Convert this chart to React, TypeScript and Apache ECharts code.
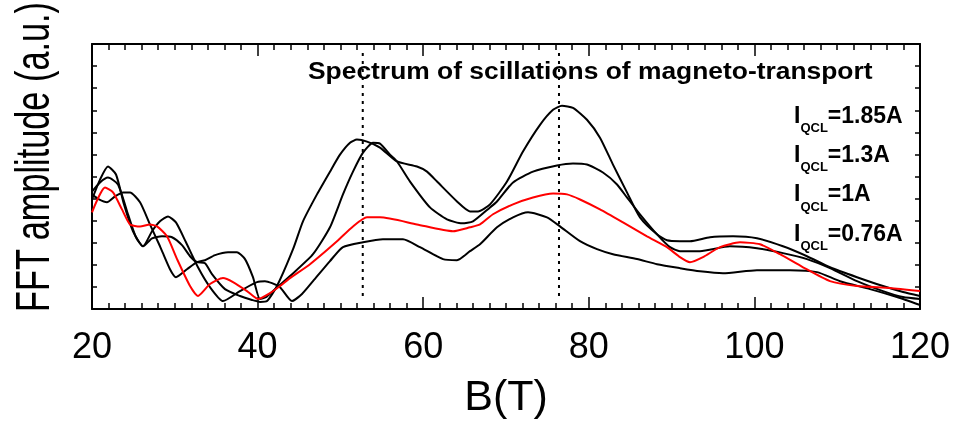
import React, { useEffect, useRef } from 'react';
import * as echarts from 'echarts';

// Magnetic field B (T) sample positions and FFT amplitudes (a.u.) per I_QCL
const fieldA = [20.0, 20.97, 21.93, 23.14, 24.35, 25.31, 26.16, 27.25, 28.45, 29.66, 30.87, 31.84, 32.68, 33.65, 34.49, 36.06, 37.87, 39.32, 40.29, 41.14, 42.34, 44.28, 45.48, 47.17, 48.74, 49.95, 51.16, 52.0, 53.21, 54.78, 56.84, 59.25, 60.46, 61.67, 64.08, 65.65, 66.62, 68.07, 70.12, 72.05, 74.11, 75.68, 76.76, 78.09, 79.78, 81.35, 82.92, 84.61, 86.18, 88.24, 89.44, 91.01, 92.22, 94.64, 97.42, 100.31, 103.45, 106.35, 109.13, 112.39, 115.53, 117.95, 120];
const ampA = [53.2, 57.3, 59.5, 56.4, 42.9, 32.5, 28.4, 32.0, 32.9, 32.5, 28.9, 23.9, 21.2, 20.7, 15.8, 9.0, 5.9, 4.1, 3.2, 3.6, 10.4, 27.1, 39.7, 51.9, 62.2, 69.9, 75.3, 76.7, 75.8, 73.1, 66.8, 64.5, 62.2, 57.7, 48.7, 44.2, 44.2, 47.4, 57.7, 71.3, 83.4, 90.2, 92.0, 91.1, 85.7, 77.6, 65.4, 52.8, 41.5, 33.8, 31.1, 30.7, 30.7, 32.5, 32.9, 32.0, 28.4, 23.9, 18.9, 14.4, 10.4, 7.7, 5.9];

const fieldB = [20.0, 20.85, 21.81, 22.78, 23.74, 24.59, 25.8, 27.0, 28.21, 29.42, 30.14, 31.47, 32.68, 33.65, 34.86, 36.43, 37.51, 38.48, 39.44, 40.29, 41.01, 41.86, 43.91, 46.69, 48.74, 50.31, 51.52, 52.73, 53.94, 54.78, 55.99, 56.84, 58.41, 60.82, 62.87, 64.69, 66.01, 68.07, 68.91, 70.85, 73.26, 76.16, 78.09, 79.78, 81.71, 83.41, 84.61, 86.18, 88.24, 89.81, 91.01, 93.43, 97.05, 100.31, 103.45, 106.35, 109.13, 112.39, 115.53, 117.95, 120];
const ampB = [51.9, 49.6, 48.3, 51.0, 52.8, 52.8, 48.3, 38.3, 28.4, 18.0, 14.4, 18.0, 21.2, 22.1, 24.4, 25.7, 25.7, 22.6, 14.4, 4.5, 5.4, 8.1, 14.9, 24.8, 37.0, 51.9, 62.2, 70.8, 75.3, 74.9, 69.9, 66.8, 57.7, 46.0, 40.6, 38.8, 39.7, 46.0, 48.7, 57.3, 62.2, 65.0, 65.9, 65.4, 61.8, 56.4, 50.5, 42.9, 33.8, 28.0, 26.2, 26.2, 28.4, 27.5, 25.3, 22.6, 18.5, 12.6, 8.1, 5.4, 4.5];

const fieldC = [20.0, 21.57, 22.54, 23.62, 24.59, 25.8, 27.0, 27.85, 29.06, 30.27, 31.84, 32.8, 34.25, 35.82, 37.03, 38.72, 40.05, 41.5, 42.71, 43.91, 46.33, 49.59, 51.52, 53.21, 54.78, 59.25, 63.6, 65.65, 66.86, 68.43, 70.85, 73.26, 75.68, 77.37, 78.94, 81.35, 84.13, 87.03, 89.44, 91.01, 92.22, 93.79, 95.85, 98.26, 100.68, 103.09, 105.87, 109.13, 112.39, 116.38, 120];
const ampC = [43.8, 55.0, 52.8, 45.1, 38.3, 37.4, 38.3, 37.4, 32.9, 22.6, 10.4, 5.9, 11.3, 14.0, 12.2, 8.1, 4.5, 7.2, 10.4, 14.0, 20.3, 30.7, 37.4, 41.5, 41.5, 38.3, 35.2, 37.0, 38.3, 42.9, 47.4, 50.5, 52.3, 51.9, 49.6, 45.1, 39.2, 32.9, 28.0, 23.5, 21.2, 23.5, 28.0, 30.2, 29.3, 24.8, 18.9, 12.6, 10.4, 9.5, 8.1];

const fieldD = [20.0, 20.97, 21.93, 22.9, 23.86, 24.95, 26.16, 27.25, 28.21, 29.18, 30.14, 31.35, 32.8, 34.25, 35.82, 37.87, 39.93, 40.89, 41.74, 42.71, 44.15, 45.36, 46.69, 48.74, 50.31, 52.73, 55.14, 57.56, 59.61, 62.39, 64.08, 65.65, 66.86, 68.91, 70.85, 72.66, 74.95, 76.52, 78.94, 80.99, 82.92, 85.82, 88.24, 91.01, 93.43, 96.2, 100.31, 104.3, 107.56, 110.34, 113.96, 117.22, 120];
const ampD = [49.6, 58.6, 64.5, 60.9, 47.4, 35.2, 28.4, 35.2, 39.7, 41.9, 39.2, 30.2, 18.9, 9.9, 3.6, 8.1, 12.2, 12.6, 11.7, 9.9, 3.6, 6.8, 12.6, 21.7, 28.0, 30.2, 31.6, 31.6, 28.0, 22.6, 22.1, 26.2, 29.3, 37.0, 41.5, 43.8, 41.5, 37.4, 30.7, 27.1, 24.8, 22.6, 20.3, 18.5, 17.1, 16.2, 17.6, 17.6, 16.7, 12.6, 9.0, 5.4, 1.8];

const currentLabels = ['=1.85A', '=1.3A', '=1A', '=0.76A'];
const markerFields = [52.7, 76.4];
const markerSpan = [5.9, 116.4];
const xRange = [20, 120];
const yRange = [0, 120];

const FONT = '"Liberation Sans", Arial, Helvetica, sans-serif';

function zip(xs: number[], ys: number[]) {
  const n = Math.min(xs.length, ys.length);
  const out: number[][] = [];
  for (let i = 0; i < n; i++) out.push([xs[i], ys[i]]);
  return out;
}

export default function App() {
  const ref = useRef<HTMLDivElement>(null);
  useEffect(() => {
    if (!ref.current) return;
    const chart = echarts.init(ref.current, null, { renderer: 'svg' });
    const axisLine = { show: true, onZero: false, lineStyle: { color: '#000', width: 2 } };
    const xTick = { show: true, inside: true, length: 12, lineStyle: { color: '#000', width: 1.5 } };
    const xMinor = { show: true, splitNumber: 10, length: 6, lineStyle: { color: '#000', width: 1.5 } };
    const yTick = { show: true, inside: true, length: 5, lineStyle: { color: '#000', width: 1.5 } };
    const curve = (name: string, xs: number[], ys: number[], color: string) => ({
      name,
      type: 'line',
      data: zip(xs, ys),
      showSymbol: false,
      symbol: 'none',
      smooth: 0.2,
      lineStyle: { color, width: 2 },
      silent: true,
    });
    const markers = markerFields.map((b) => ({
      type: 'line',
      data: [[b, markerSpan[0]], [b, markerSpan[1]]],
      showSymbol: false,
      symbol: 'none',
      lineStyle: { color: '#000', width: 2, type: [3, 5] },
      silent: true,
    }));
    const legendY = [103, 142.3, 181.6, 221];
    chart.setOption({
      animation: false,
      grid: { left: 92, right: 35, top: 44, bottom: 111, show: false },
      xAxis: [
        {
          type: 'value', position: 'bottom', min: xRange[0], max: xRange[1], interval: 20,
          axisLine, axisTick: xTick, minorTick: xMinor, splitLine: { show: false },
          axisLabel: { fontSize: 36, color: '#000', fontFamily: FONT, margin: 18 },
          name: 'B(T)', nameLocation: 'middle', nameGap: 64,
          nameTextStyle: { fontSize: 43, color: '#000', fontFamily: FONT },
        },
        {
          type: 'value', position: 'top', min: xRange[0], max: xRange[1], interval: 20,
          axisLine, axisTick: xTick, minorTick: xMinor, splitLine: { show: false },
          axisLabel: { show: false },
        },
      ],
      yAxis: [
        {
          type: 'value', position: 'left', min: yRange[0], max: yRange[1], interval: 10,
          axisLine, axisTick: yTick, splitLine: { show: false }, axisLabel: { show: false },
        },
        {
          type: 'value', position: 'right', min: yRange[0], max: yRange[1], interval: 10,
          axisLine, axisTick: yTick, splitLine: { show: false }, axisLabel: { show: false },
        },
      ],
      series: [
        ...markers,
        curve('1.85A', fieldA, ampA, '#000'),
        curve('1.3A', fieldB, ampB, '#000'),
        curve('0.76A', fieldD, ampD, '#000'),
        curve('1A', fieldC, ampC, '#ff0000'),
      ],
      graphic: [
        {
          type: 'text', x: 308, y: 58, scaleX: 1.1,
          style: {
            text: 'Spectrum of scillations of magneto-transport',
            font: `bold 24px ${FONT}`, fill: '#000', align: 'left', verticalAlign: 'top',
          },
        },
        {
          type: 'text', x: 32, y: 157, rotation: Math.PI / 2, scaleX: 0.7,
          style: {
            text: 'FFT amplitude (a.u.)',
            font: `49px ${FONT}`, fill: '#000', align: 'center', verticalAlign: 'middle',
          },
        },
        ...currentLabels.map((lab, i) => ({
          type: 'text', x: 794, y: legendY[i],
          style: {
            text: `{m|I}{s|QCL}{m|${lab}}`,
            align: 'left', verticalAlign: 'top',
            rich: {
              m: { fontSize: 23, fontWeight: 'bold', fontFamily: FONT, fill: '#000', color: '#000', lineHeight: 28, verticalAlign: 'top' },
              s: { fontSize: 13, fontWeight: 'bold', fontFamily: FONT, fill: '#000', color: '#000', lineHeight: 14, padding: [18, 0, 0, 0], verticalAlign: 'top' },
            },
          },
        })),
      ],
    });
    return () => chart.dispose();
  }, []);
  return <div ref={ref} style={{ position: 'fixed', left: 0, top: 0, width: 955, height: 421 }} />;
}
